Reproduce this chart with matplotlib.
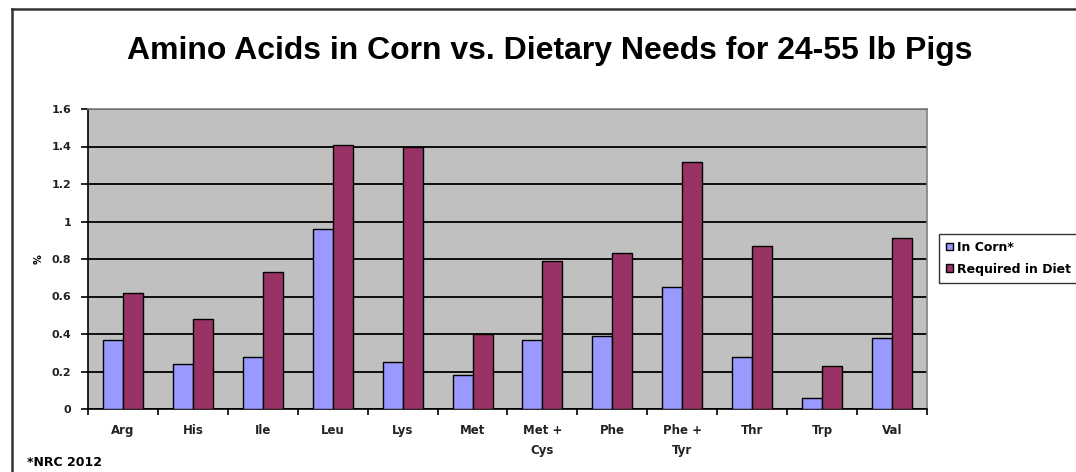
import numpy as np
import matplotlib.pyplot as plt
from matplotlib.lines import Line2D

# amino acids and % values
categories = ['Arg', 'His', 'Ile', 'Leu', 'Lys', 'Met', 'Met +\nCys',
              'Phe', 'Phe +\nTyr', 'Thr', 'Trp', 'Val']
in_corn = [0.37, 0.24, 0.28, 0.96, 0.25, 0.18, 0.37, 0.39, 0.65, 0.28, 0.06, 0.38]
required = [0.62, 0.48, 0.73, 1.41, 1.40, 0.40, 0.79, 0.83, 1.32, 0.87, 0.23, 0.91]
y_ticks = [0, 0.2, 0.4, 0.6, 0.8, 1, 1.2, 1.4, 1.6]
y_tick_labels = ['0', '0.2', '0.4', '0.6', '0.8', '1', '1.2', '1.4', '1.6']

plt.rcParams['font.family'] = ['DejaVu Sans']
plt.rcParams['font.weight'] = 'bold'

W, H = 1076, 472
fig = plt.figure(figsize=(W / 100, H / 100), dpi=100)
ax = fig.add_axes([88 / W, 1 - 409 / H, (927 - 88) / W, (409 - 109) / H])
ax.set_facecolor('#C0C0C0')

x = np.arange(len(categories))
bw = 1 / 3.5
ax.bar(x - bw / 2, in_corn, bw, color='#9999FF', edgecolor='black', linewidth=1.0,
       label='In Corn*', zorder=3)
ax.bar(x + bw / 2, required, bw, color='#993366', edgecolor='black', linewidth=1.0,
       label='Required in Diet', zorder=3)

ax.set_xlim(-0.5, len(categories) - 0.5)
ax.set_ylim(0, 1.6)
ax.set_yticks(y_ticks)
ax.set_yticklabels(y_tick_labels, fontsize=8, fontweight='bold', color='#222222')
ax.yaxis.grid(True, color='black', linewidth=1.3, zorder=1)
ax.set_axisbelow(True)

# category labels between boundary ticks
ax.set_xticks(np.arange(len(categories) + 1) - 0.5)
ax.set_xticklabels([])
ax.set_xticks(x, minor=True)
ax.set_xticklabels(categories, minor=True, fontsize=8.5, fontweight='bold',
                   color='#222222', linespacing=1.7)
ax.tick_params(axis='x', which='minor', length=0, pad=11)
ax.tick_params(axis='x', which='major', length=4, width=1.2, direction='out')
ax.tick_params(axis='y', length=5, width=1.2, direction='out', pad=7)

ax.spines['top'].set_color('#808080')
ax.spines['right'].set_color('#808080')
ax.spines['left'].set_color('black')
ax.spines['bottom'].set_color('black')
for s in ax.spines.values():
    s.set_linewidth(1.2)

ax.set_ylabel('%', fontsize=7, fontweight='bold', labelpad=6)

fig.text(550 / W, 1 - 51 / H, 'Amino Acids in Corn vs. Dietary Needs for 24-55 lb Pigs',
         ha='center', va='center', fontsize=23, fontweight='bold',
         family=['Liberation Sans', 'DejaVu Sans'])
fig.text(27 / W, 1 - 462 / H, '*NRC 2012', ha='left', va='center', fontsize=9,
         fontweight='bold')

leg = fig.legend(loc='upper left', bbox_to_anchor=(939 / W, 1 - 234 / H),
                 prop={'size': 9, 'weight': 'bold'}, frameon=True, fancybox=False,
                 edgecolor='black', handlelength=0.6, handleheight=0.6,
                 handletextpad=0.3, borderpad=0.55, labelspacing=0.7,
                 borderaxespad=0)
leg.get_frame().set_linewidth(1.0)

# outer chart frame
fig.add_artist(Line2D([12 / W, 12 / W], [0, 1 - 9 / H], color='#333333', lw=1.8))
fig.add_artist(Line2D([12 / W, 1], [1 - 9 / H, 1 - 9 / H], color='#333333', lw=1.8))

fig.savefig('out.png', dpi=100)
